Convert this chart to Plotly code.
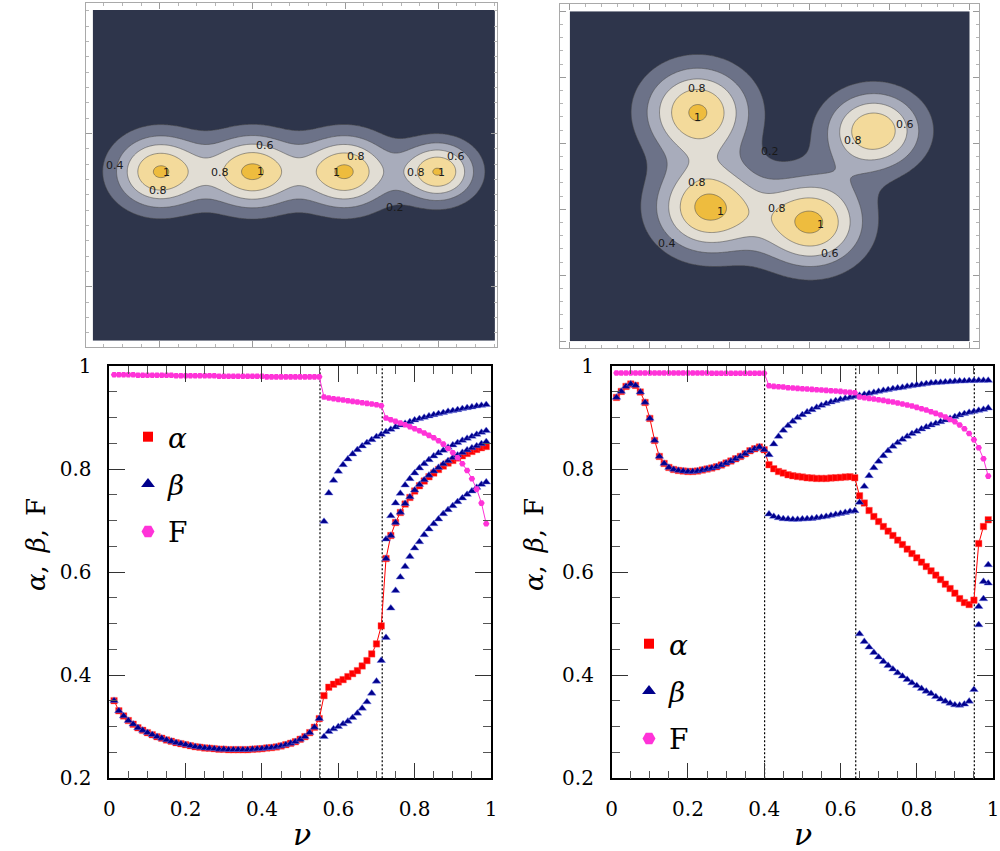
import numpy as np
import plotly.graph_objects as go

W, H = 1000, 851

# ---------------- data: bottom panels ----------------
NU = [0.0125, 0.025, 0.0375, 0.05, 0.0625, 0.075, 0.0875, 0.1, 0.1125, 0.125,
      0.1375, 0.15, 0.1625, 0.175, 0.1875, 0.2, 0.2125, 0.225, 0.2375, 0.25,
      0.2625, 0.275, 0.2875, 0.3, 0.3125, 0.325, 0.3375, 0.35, 0.3625, 0.375,
      0.3875, 0.4, 0.4125, 0.425, 0.4375, 0.45, 0.4625, 0.475, 0.4875, 0.5,
      0.5125, 0.525, 0.5375, 0.55, 0.5625, 0.575, 0.5875, 0.6, 0.6125, 0.625,
      0.6375, 0.65, 0.6625, 0.675, 0.6875, 0.7, 0.7125, 0.725, 0.7375, 0.75,
      0.7625, 0.775, 0.7875, 0.8, 0.8125, 0.825, 0.8375, 0.85, 0.8625, 0.875,
      0.8875, 0.9, 0.9125, 0.925, 0.9375, 0.95, 0.9625, 0.975, 0.9875]

# left panel
L_ALPHA = [0.3507, 0.331, 0.321, 0.312, 0.305, 0.298, 0.293, 0.2886, 0.2847, 0.2808,
           0.2777, 0.2744, 0.2718, 0.2691, 0.2672, 0.2652, 0.2633, 0.2614, 0.2602, 0.2588,
           0.2583, 0.2575, 0.2563, 0.2563, 0.2556, 0.2556, 0.2556, 0.2556, 0.2556, 0.2563,
           0.2569, 0.2575, 0.2588, 0.2595, 0.2608, 0.2627, 0.2652, 0.2679, 0.2711, 0.2757,
           0.2808, 0.2886, 0.299, 0.3158,
           0.3604, 0.3767, 0.3825, 0.387, 0.3915, 0.3973, 0.4031, 0.4089, 0.418, 0.4284,
           0.4414, 0.4608, 0.4957,
           0.6264, 0.6711, 0.6963, 0.7157, 0.732, 0.7449, 0.7573, 0.7676, 0.7767, 0.785,
           0.7922, 0.7992, 0.8058, 0.8116, 0.8167, 0.8214, 0.8258, 0.8303, 0.8342, 0.8381,
           0.8414, 0.8439]
L_F = [0.983, 0.983, 0.983, 0.983, 0.983, 0.982, 0.982, 0.982, 0.982, 0.982,
       0.982, 0.982, 0.982, 0.981, 0.981, 0.981, 0.981, 0.981, 0.981, 0.981,
       0.981, 0.981, 0.980, 0.980, 0.980, 0.980, 0.980, 0.980, 0.980, 0.980,
       0.980, 0.980, 0.979, 0.979, 0.979, 0.979, 0.979, 0.979, 0.979, 0.979,
       0.979, 0.979, 0.979, 0.979,
       0.9398, 0.9379, 0.9365, 0.9352, 0.934, 0.9326, 0.9313, 0.9301, 0.9287, 0.9274,
       0.9262, 0.9249, 0.9229,
       0.899, 0.8957, 0.8925, 0.8893, 0.886, 0.8821, 0.8782, 0.8744, 0.8699, 0.8653,
       0.8608, 0.855, 0.8485, 0.84, 0.8316, 0.8219, 0.8103, 0.7973, 0.7812, 0.7612,
       0.734, 0.6938]
# beta branches (left)
L_BETA_SHARED = L_ALPHA[:44]          # beta coincides with alpha for nu < 0.55
L_BETA_UP = [0.6983, 0.7534, 0.7779, 0.7954, 0.8083, 0.8194, 0.8291, 0.8375, 0.8447, 0.8511,
             0.8569, 0.8628, 0.8672, 0.8724, 0.8769, 0.8815, 0.8854, 0.8885, 0.8918, 0.8951,
             0.8977, 0.9002, 0.9029, 0.9054, 0.9074, 0.9093, 0.9119, 0.9132, 0.9151, 0.9171,
             0.919, 0.9204, 0.9223, 0.9235, 0.9249]
L_BETA_LOW = [0.2808, 0.2905, 0.2957, 0.3002, 0.3054, 0.3107, 0.3177, 0.3262, 0.3359, 0.3482,
              0.365, 0.3883, 0.4284]
L_BETA_B2 = [0.664, 0.7093, 0.734, 0.7527, 0.7689, 0.7812, 0.7922, 0.8019, 0.8103, 0.818,
             0.8252, 0.8311, 0.8361, 0.842, 0.8466, 0.8511, 0.8556, 0.8595, 0.8634, 0.8672,
             0.8711, 0.8744]
L_BETA_B3 = [0.6264, 0.6711, 0.6963, 0.716, 0.733, 0.746, 0.759, 0.770, 0.779, 0.788,
             0.796, 0.803, 0.810, 0.816, 0.822, 0.827, 0.832, 0.837, 0.841, 0.845,
             0.849, 0.853]
L_BETA_B4 = [0.473, 0.5301, 0.5643, 0.5903, 0.6109, 0.6303, 0.6466, 0.6588, 0.6724, 0.6835,
             0.6938, 0.7029, 0.7132, 0.721, 0.7287, 0.7365, 0.7437, 0.7507, 0.7573, 0.7643,
             0.7701, 0.7747]
L_TRANSITIONS = [0.552, 0.715]

# right panel
R_ALPHA = [0.939, 0.9507, 0.9604, 0.965, 0.9624, 0.9495, 0.9293, 0.8983, 0.8556, 0.8245,
           0.8109, 0.8031, 0.7992, 0.7973, 0.7961, 0.7953, 0.7953, 0.7961, 0.798, 0.8,
           0.8019, 0.8045, 0.8078, 0.8116, 0.8155, 0.82, 0.8245, 0.8297, 0.8355, 0.8394,
           0.8427, 0.8375,
           0.8083, 0.8006, 0.7953, 0.7922, 0.7889, 0.787, 0.7857, 0.7845, 0.7831, 0.7825,
           0.7818, 0.7818, 0.7818, 0.7825, 0.7831, 0.7838, 0.7845, 0.7851, 0.7831,
           0.7481, 0.734, 0.7196, 0.708, 0.6983, 0.6886, 0.6796, 0.6711, 0.6621, 0.6536,
           0.6447, 0.6361, 0.6278, 0.6194, 0.6109, 0.6025, 0.5942, 0.5856, 0.5767, 0.5682,
           0.5592, 0.5487, 0.541, 0.5371, 0.5456, 0.6555, 0.6886, 0.7016]
R_F = [0.9865, 0.9865, 0.9865, 0.9865, 0.9865, 0.9865, 0.9865, 0.9865, 0.9865, 0.9865,
       0.9865, 0.9865, 0.9865, 0.9865, 0.9865, 0.9865, 0.9865, 0.9865, 0.9865, 0.9865,
       0.986, 0.986, 0.986, 0.986, 0.986, 0.986, 0.986, 0.986, 0.986, 0.986,
       0.986, 0.986,
       0.9617, 0.9604, 0.9598, 0.9592, 0.9579, 0.9572, 0.9565, 0.9559, 0.9553, 0.9546,
       0.954, 0.9534, 0.9527, 0.952, 0.9514, 0.9507, 0.9495, 0.9488, 0.9482,
       0.9398, 0.9385, 0.9371, 0.9359, 0.9346, 0.9332, 0.9313, 0.9301, 0.9281, 0.9262,
       0.9243, 0.9223, 0.9197, 0.9171, 0.9146, 0.9113, 0.908, 0.9049, 0.901, 0.8963,
       0.8918, 0.8854, 0.8782, 0.8691, 0.8569, 0.8414, 0.82, 0.7864]
R_BETA_SHARED = R_ALPHA[:32]          # beta coincides with alpha for nu <= 0.4
R_BETA_UP = [0.8278, 0.8485, 0.8633, 0.875, 0.8841, 0.8925, 0.8996, 0.9054, 0.9107, 0.9151,
             0.9197, 0.9235, 0.9268, 0.9301, 0.9326, 0.9352, 0.9371, 0.939, 0.941, 0.9429,
             0.9449, 0.9468, 0.9487, 0.9507, 0.9526, 0.954, 0.9559, 0.9572, 0.9584, 0.9604,
             0.9617, 0.9631, 0.9643, 0.9656, 0.967, 0.9676, 0.9682, 0.9689, 0.9695, 0.9702,
             0.9709, 0.9709, 0.9715, 0.9715, 0.9721, 0.9721, 0.9721]
R_BETA_LOW = [0.7126, 0.708, 0.7054, 0.7035, 0.7029, 0.7022, 0.7022, 0.7029, 0.7035, 0.7041,
              0.7054, 0.7067, 0.708, 0.71, 0.7119, 0.7138, 0.7157, 0.7177, 0.719]
R_BETA_MID = [0.7353, 0.7663, 0.787, 0.8025, 0.8148, 0.8258, 0.8355, 0.8439, 0.8511, 0.8575,
              0.8633, 0.8686, 0.873, 0.8777, 0.8815, 0.8854, 0.8885, 0.8918, 0.8951, 0.8982,
              0.9016, 0.9049, 0.9074, 0.9099, 0.9119, 0.9138, 0.9157, 0.9184]
R_BETA_BOTTOM = [0.4802, 0.4653, 0.4544, 0.4439, 0.435, 0.4264, 0.4187, 0.4117, 0.4045, 0.3981,
                 0.3915, 0.385, 0.3798, 0.374, 0.3689, 0.3643, 0.3584, 0.3534, 0.3495, 0.3456,
                 0.3423, 0.3417, 0.3437, 0.3495, 0.372]
R_BETA_E1 = [0.4977, 0.5482, 0.5786]
R_BETA_E2 = [0.5333, 0.5818, 0.6142]
R_TRANSITIONS = [0.401, 0.64, 0.951]

# ---------------- data: top contour panels ----------------
TL_PEAK_X = [1.0, 2.0, 3.0, 4.0]
TL_PEAK_Y = [-0.5, -0.5, -0.5, -0.5]
TL_PEAK_A = [1.012, 1.02, 1.02, 1.0]
TL_PEAK_SX = [0.34, 0.34, 0.34, 0.28]
TL_PEAK_SY = [0.34, 0.34, 0.34, 0.275]
TL_XLIM = [0.28, 4.61]
TL_YLIM = [-2.705, 1.61]

TR_PEAK_X = [-1.4, -1.27, 0.02, 0.8]
TR_PEAK_Y = [0.48, -0.98, -1.2, 0.19]
TR_PEAK_A = [1.02, 1.05, 1.04, 0.98]
TR_PEAK_SX = [0.46, 0.46, 0.46, 0.42]
TR_PEAK_SY = [0.48, 0.48, 0.48, 0.42]
TR_XLIM = [-3.0, 2.0]
TR_YLIM = [-3.0, 2.0]

LEVELS = [0.2, 1.0, 0.2]   # start, end, step
BAND_COLORS = ['#2e354b', '#6c7288', '#a8acbb', '#e1ddd4', '#f3da9b', '#eebc3e']

TL_LABELS = ['0.4', '0.6', '0.8', '0.6', '1', '0.8', '1', '1', '0.8', '1', '0.8', '0.2']
TL_LABEL_X = [0.52, 2.135, 3.114, 4.19, 1.076, 1.65, 2.091, 2.906, 3.76, 4.037, 0.986, 3.534]
TL_LABEL_Y = [-0.413, -0.161, -0.304, -0.304, -0.508, -0.513, -0.5, -0.513, -0.513, -0.513, -0.748, -0.964]
TR_LABELS = ['0.8', '1', '0.6', '0.8', '0.2', '0.8', '1', '0.8', '1', '0.4', '0.6']
TR_LABEL_X = [-1.4125, -1.4, 1.191, 0.5375, -0.496, -1.4125, -1.121, -0.409, 0.129, -1.78, 0.254]
TR_LABEL_Y = [0.823, 0.394, 0.292, 0.045, -0.127, -0.591, -1.036, -0.985, -1.227, -1.515, -1.677]


def fx(px):
    return px / W


def fy(py):
    return 1 - py / H


def field(xlim, ylim, cx, cy, amp, sx, sy, nx=320, ny=270):
    xs = np.linspace(xlim[0], xlim[1], nx)
    ys = np.linspace(ylim[0], ylim[1], ny)
    X, Y = np.meshgrid(xs, ys)
    Z = np.zeros_like(X)
    for x0, y0, a, s1, s2 in zip(cx, cy, amp, sx, sy):
        Z += a * np.exp(-((X - x0) ** 2 / (2 * s1 ** 2) + (Y - y0) ** 2 / (2 * s2 ** 2)))
    return xs, ys, Z


colorscale = [[i / (len(BAND_COLORS) - 1), c] for i, c in enumerate(BAND_COLORS)]

fig = go.Figure()

for (xlim, ylim, cx, cy, a, sx, sy, xa, ya) in [
        (TL_XLIM, TL_YLIM, TL_PEAK_X, TL_PEAK_Y, TL_PEAK_A, TL_PEAK_SX, TL_PEAK_SY, 'x', 'y'),
        (TR_XLIM, TR_YLIM, TR_PEAK_X, TR_PEAK_Y, TR_PEAK_A, TR_PEAK_SX, TR_PEAK_SY, 'x2', 'y2')]:
    xs, ys, Z = field(xlim, ylim, cx, cy, a, sx, sy)
    fig.add_trace(go.Contour(
        x=xs, y=ys, z=Z, xaxis=xa, yaxis=ya,
        contours=dict(start=LEVELS[0], end=LEVELS[1], size=LEVELS[2], coloring='fill', showlines=True),
        line=dict(color='rgba(70,70,70,0.75)', width=0.7, smoothing=1),
        colorscale=colorscale, showscale=False, hoverinfo='skip', showlegend=False))

ALPHA_COLOR = '#ff0000'
BETA_COLOR = '#00008c'
F_COLOR = '#ff33d8'


def bottom_traces(alpha, beta_x, beta_y, fvals, xa, ya, leg):
    fig.add_trace(go.Scatter(x=NU, y=alpha, xaxis=xa, yaxis=ya, mode='lines+markers',
                             line=dict(color=ALPHA_COLOR, width=1),
                             marker=dict(symbol='square', size=6.5, color=ALPHA_COLOR,
                                         line=dict(width=0.6, color='rgba(255,90,90,0.7)')),
                             showlegend=False, hoverinfo='skip'))
    fig.add_trace(go.Scatter(x=beta_x, y=beta_y, xaxis=xa, yaxis=ya, mode='markers',
                             marker=dict(symbol='triangle-up', size=7.5, color=BETA_COLOR,
                                         line=dict(width=0.8, color='rgba(110,120,230,0.55)')),
                             showlegend=False, hoverinfo='skip'))
    fig.add_trace(go.Scatter(x=NU, y=fvals, xaxis=xa, yaxis=ya, mode='lines+markers',
                             line=dict(color=F_COLOR, width=1),
                             marker=dict(symbol='hexagon2', size=6.5, color=F_COLOR),
                             showlegend=False, hoverinfo='skip'))
    # legend entries
    for name, sym, size, col, grp in [('<i>α</i>', 'square', 10, ALPHA_COLOR, 'a'),
                                      ('<i>β</i>', 'triangle-up', 12, BETA_COLOR, 'b'),
                                      ('F', 'hexagon2', 13, F_COLOR, 'f')]:
        fig.add_trace(go.Scatter(x=[None], y=[None], xaxis=xa, yaxis=ya, mode='markers',
                                 marker=dict(symbol=sym, size=size, color=col),
                                 name=name, legend=leg, legendgroup=grp + leg, showlegend=True))


L_BETA_X = NU[:44] + NU[44:] + NU[44:57] + NU[57:] + NU[57:] + NU[57:]
L_BETA_Y = L_BETA_SHARED + L_BETA_UP + L_BETA_LOW + L_BETA_B2 + L_BETA_B3 + L_BETA_B4
R_BETA_X = NU[:32] + NU[32:] + NU[32:51] + NU[51:] + NU[51:76] + NU[76:] + NU[76:]
R_BETA_Y = R_BETA_SHARED + R_BETA_UP + R_BETA_LOW + R_BETA_MID + R_BETA_BOTTOM + R_BETA_E1 + R_BETA_E2

bottom_traces(L_ALPHA, L_BETA_X, L_BETA_Y, L_F, 'x3', 'y3', 'legend')
bottom_traces(R_ALPHA, R_BETA_X, R_BETA_Y, R_F, 'x4', 'y4', 'legend2')

# ---------------- layout ----------------
FRAME_GRAY = '#a9a9a9'


def top_axis(domain, rng, anchor, dtick, tick0):
    return dict(domain=domain, range=rng, anchor=anchor, showline=True, linecolor=FRAME_GRAY,
                linewidth=1, mirror='allticks', ticks='inside', ticklen=6, tickwidth=1,
                tickcolor='#9a9a9a', dtick=dtick, tick0=tick0, showticklabels=False,
                minor=dict(dtick=0.2, tick0=tick0, ticklen=3, ticks='inside', tickwidth=1,
                           tickcolor='#b5b5b5', showgrid=False),
                showgrid=False, zeroline=False, fixedrange=True)


def bottom_axis(domain, rng, anchor, standoff, minor_len):
    return dict(domain=domain, range=rng, anchor=anchor, showline=True, linecolor='black',
                linewidth=1.6, mirror='allticks', ticks='inside', ticklen=16, tickwidth=1.2,
                tickcolor='#333333', dtick=0.2, tick0=0,
                minor=dict(dtick=0.05, ticklen=minor_len, ticks='inside', tickwidth=1.2,
                           tickcolor='#555555', showgrid=False),
                showgrid=False, zeroline=False, ticklabelstandoff=standoff, automargin=False,
                tickfont=dict(family='DejaVu Serif', size=20, color='black'), fixedrange=True)


LEG_FONT = dict(family='DejaVu Serif', size=28, color='black')
layout = dict(
    width=W, height=H, margin=dict(l=0, r=0, t=0, b=0, pad=0, autoexpand=False),
    paper_bgcolor='white', plot_bgcolor='white',
    xaxis=top_axis([fx(86), fx(496.7)], [0.208, 4.629], 'y', 1, 0),
    yaxis=top_axis([fy(347.3), fy(3.3)], [-2.791, 1.697], 'x', 2, 0),
    xaxis2=top_axis([fx(560), fx(979)], [-3.121, 2.116], 'y2', 1, 0),
    yaxis2=top_axis([fy(348.3), fy(4)], [-3.106, 2.11], 'x2', 1, 0),
    xaxis3=bottom_axis([fx(109.3), fx(491)], [0, 1], 'y3', 12, 8),
    yaxis3=bottom_axis([fy(778.3), fy(366)], [0.2, 1], 'x3', 12, 8),
    xaxis4=bottom_axis([fx(611.7), fx(993)], [0, 1], 'y4', 12, 8),
    yaxis4=bottom_axis([fy(778.3), fy(366)], [0.2, 1], 'x4', 12, 8),
    legend=dict(x=fx(128), y=fy(412), xanchor='left', yanchor='top', bgcolor='rgba(0,0,0,0)',
                font=LEG_FONT, tracegroupgap=8, itemwidth=30, traceorder='grouped'),
    legend2=dict(x=fx(629), y=fy(619), xanchor='left', yanchor='top', bgcolor='rgba(0,0,0,0)',
                 font=LEG_FONT, tracegroupgap=8, itemwidth=30, traceorder='grouped'),
    showlegend=True,
)
fig.update_layout(**layout)

shapes = []
for xv in L_TRANSITIONS:
    shapes.append(dict(type='line', xref='x3', yref='y3 domain', x0=xv, x1=xv, y0=0, y1=1,
                       line=dict(color='black', width=1.2, dash='2px,2px'), layer='below'))
for xv in R_TRANSITIONS:
    shapes.append(dict(type='line', xref='x4', yref='y4 domain', x0=xv, x1=xv, y0=0, y1=1,
                       line=dict(color='black', width=1.2, dash='2px,2px'), layer='below'))
fig.update_layout(shapes=shapes)

ann = []
for t, x, y in zip(TL_LABELS, TL_LABEL_X, TL_LABEL_Y):
    ann.append(dict(text=t, x=x, y=y, xref='x', yref='y', showarrow=False,
                    xanchor='center', yanchor='middle',
                    font=dict(family='DejaVu Sans', size=11, color='#1a1a1a')))
for t, x, y in zip(TR_LABELS, TR_LABEL_X, TR_LABEL_Y):
    ann.append(dict(text=t, x=x, y=y, xref='x2', yref='y2', showarrow=False,
                    xanchor='center', yanchor='middle',
                    font=dict(family='DejaVu Sans', size=11, color='#1a1a1a')))
YTITLE = '<i>α</i>,\u2002<i>β</i>,\u2002F'
for xp in [36, 534]:
    ann.append(dict(text=YTITLE, x=fx(xp), y=fy(545), xref='paper', yref='paper', showarrow=False,
                    xanchor='center', yanchor='middle', textangle=-90,
                    font=dict(family='DejaVu Serif', size=26, color='black')))
for xp in [302, 803]:
    ann.append(dict(text='<i>ν</i>', x=fx(xp), y=fy(834), xref='paper', yref='paper',
                    showarrow=False, xanchor='center', yanchor='middle',
                    font=dict(family='DejaVu Serif', size=30, color='black')))
fig.update_layout(annotations=ann)

# remove the default 8 px page margin so the figure sits at the window's top-left corner
fig.write_html("out.html", config={'displayModeBar': False},
               post_script="document.body.style.margin='0px';")
